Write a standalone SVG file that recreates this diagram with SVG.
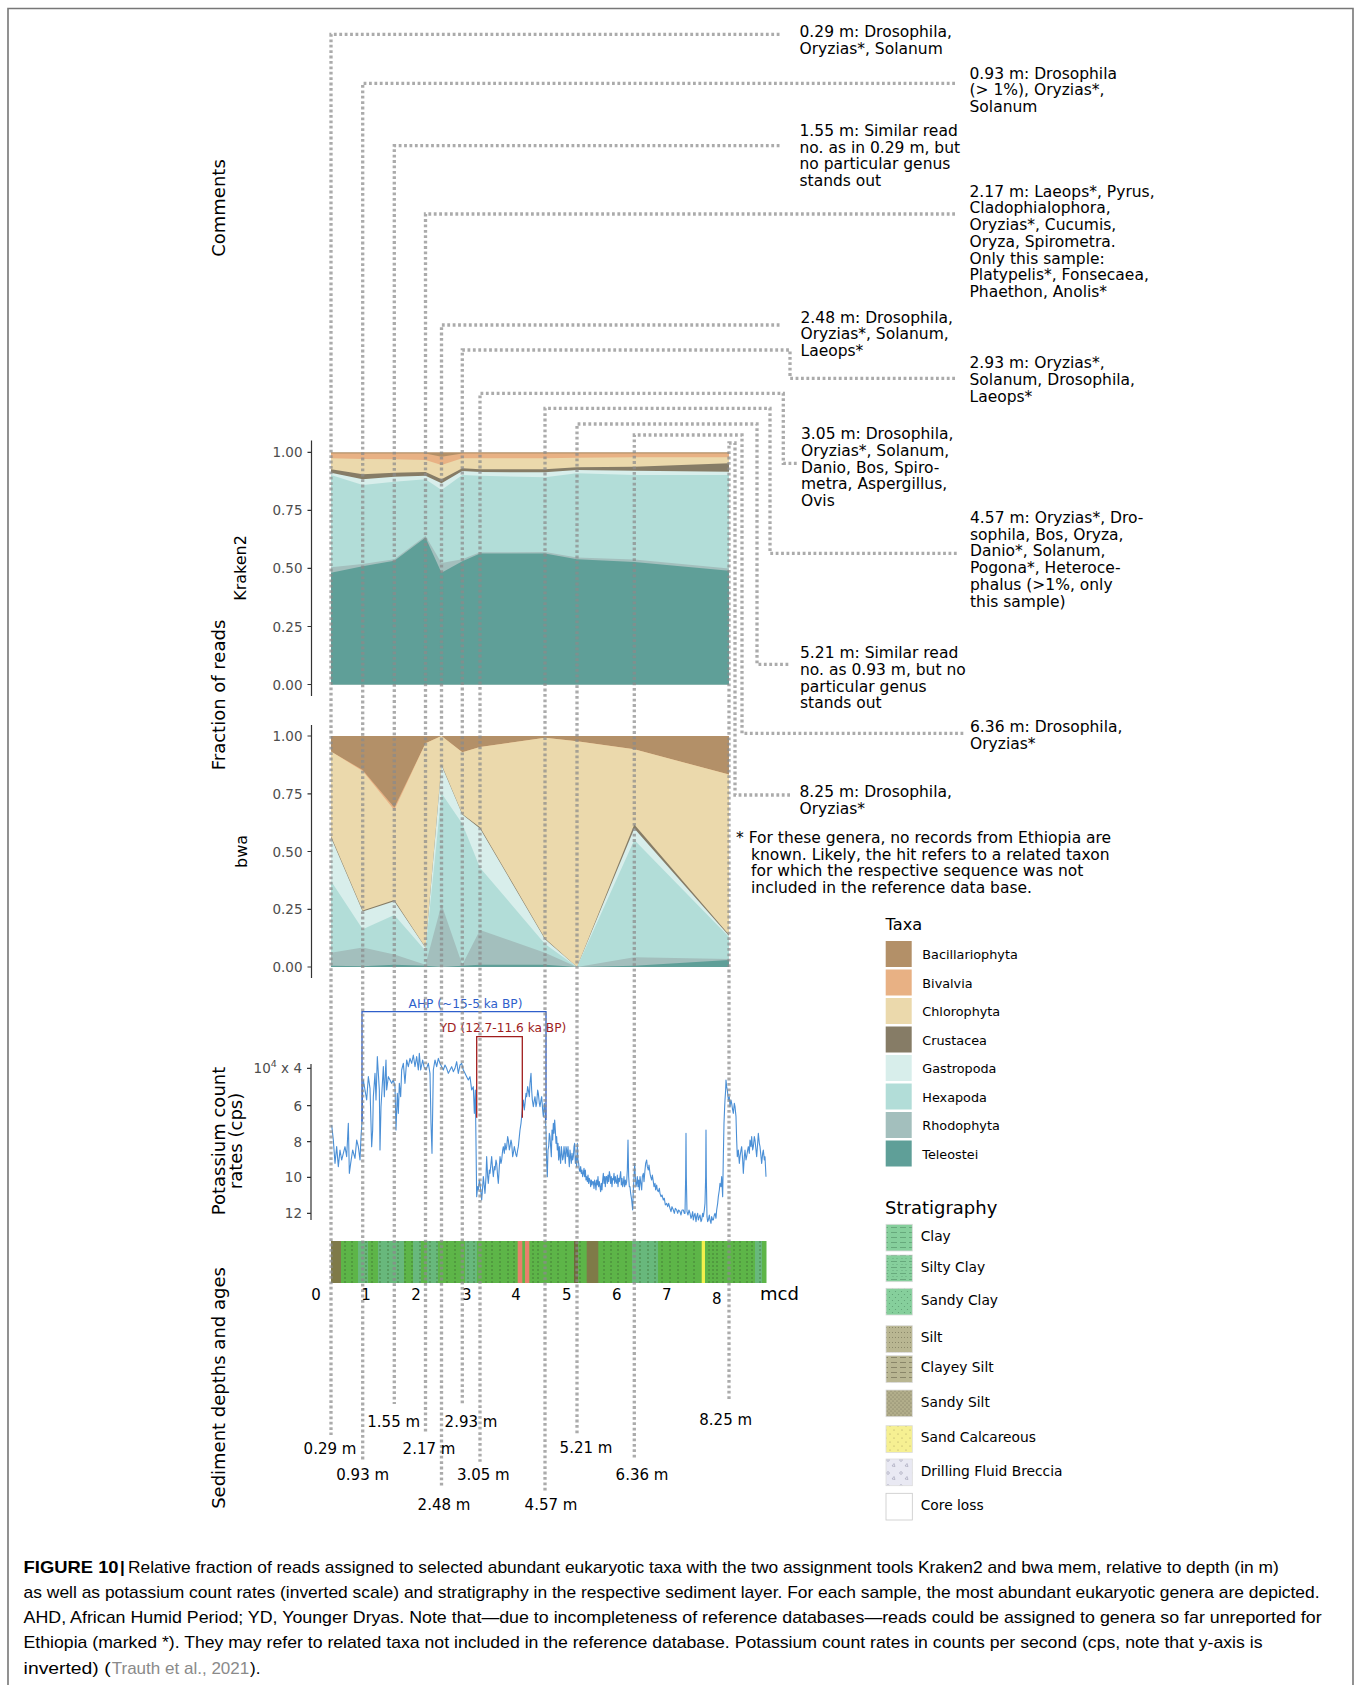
<svg xmlns="http://www.w3.org/2000/svg" width="1356" height="1685" viewBox="0 0 1356 1685">
<style>
text{font-family:"DejaVu Sans","Noto Sans",sans-serif;fill:#000}
.cm{font-size:15.5px}
.tk{font-size:13.5px;fill:#4d4d4d;text-anchor:end}
.ax{font-size:18px;text-anchor:middle}
.ax2{font-size:16px;text-anchor:middle}
.lg{font-size:12.8px}
.sl{font-size:13.8px}
.dp{font-size:15px;text-anchor:middle}
.dot{fill:none;stroke:#8a8a8a;stroke-opacity:0.72;stroke-width:3.3;stroke-dasharray:2.8 2.6}
.axl{stroke:#333;stroke-width:1.2;fill:none}
.cap{font-family:"Liberation Sans",Arial,sans-serif;font-size:17px}
.sd{stroke:#3b6a30;stroke-width:0.9;stroke-dasharray:2 2;opacity:0.75}
</style>
<defs>
<pattern id="pClay" width="9" height="5" patternUnits="userSpaceOnUse"><rect width="9" height="5" fill="#86cf9c"/><line x1="0" y1="2.5" x2="6" y2="2.5" stroke="#5f9f74" stroke-width="0.8"/></pattern>
<pattern id="pSiltyClay" width="9" height="6" patternUnits="userSpaceOnUse"><rect width="9" height="6" fill="#86cf9c"/><line x1="0" y1="1.5" x2="6" y2="1.5" stroke="#5f9f74" stroke-width="0.8"/><circle cx="2" cy="4.5" r="0.5" fill="#5f9f74"/><circle cx="6" cy="4.5" r="0.5" fill="#5f9f74"/></pattern>
<pattern id="pSandyClay" width="6" height="6" patternUnits="userSpaceOnUse"><rect width="6" height="6" fill="#86cf9c"/><circle cx="1.5" cy="1.5" r="0.6" fill="#5f9f74"/><circle cx="4.5" cy="4.5" r="0.6" fill="#5f9f74"/></pattern>
<pattern id="pSilt" width="6" height="5" patternUnits="userSpaceOnUse"><rect width="6" height="5" fill="#b9b692"/><circle cx="1.5" cy="2.5" r="0.5" fill="#7d7a5e"/><circle cx="4.5" cy="2.5" r="0.5" fill="#7d7a5e"/></pattern>
<pattern id="pClayeySilt" width="9" height="5" patternUnits="userSpaceOnUse"><rect width="9" height="5" fill="#b9b692"/><line x1="0" y1="2.5" x2="6" y2="2.5" stroke="#7d7a5e" stroke-width="0.8"/></pattern>
<pattern id="pSandySilt" width="4" height="4" patternUnits="userSpaceOnUse"><rect width="4" height="4" fill="#b2ae8b"/><circle cx="1" cy="1" r="0.55" fill="#76735a"/><circle cx="3" cy="3" r="0.55" fill="#76735a"/></pattern>
<pattern id="pSand" width="8" height="8" patternUnits="userSpaceOnUse"><rect width="8" height="8" fill="#f6f092"/><circle cx="2" cy="2" r="0.6" fill="#a8a060"/><circle cx="6" cy="6" r="0.6" fill="#a8a060"/></pattern>
<pattern id="pBreccia" width="13" height="13" patternUnits="userSpaceOnUse"><rect width="13" height="13" fill="#e9e9f3"/><circle cx="4" cy="4" r="1.3" fill="none" stroke="#9a9ab0" stroke-width="0.6"/><path d="M8,10 l2,-2.5 l1,3 z" fill="none" stroke="#9a9ab0" stroke-width="0.6"/></pattern>
</defs>

<path d="M8,1685 V8.5 H1353 V1685" fill="none" stroke="#777" stroke-width="1.6"/>

<g id="axis-titles">
<text class="ax" transform="translate(224.5,208) rotate(-90)">Comments</text>
<text class="ax" transform="translate(224.5,695) rotate(-90)">Fraction of reads</text>
<text class="ax2" transform="translate(246,568) rotate(-90)">Kraken2</text>
<text class="ax2" transform="translate(247,851.5) rotate(-90)">bwa</text>
<text class="ax" transform="translate(224.5,1141) rotate(-90)">Potassium count</text>
<text class="ax" transform="translate(241.7,1141) rotate(-90)">rates (cps)</text>
<text class="ax" transform="translate(224.5,1388) rotate(-90)">Sediment depths and ages</text>
</g>

<g id="kraken2-panel">
<polygon fill="#b39068" points="331,452.3 729,452.3 729,684.5 331,684.5"/>
<polygon fill="#e8b184" points="331,453.5 362.7,453.5 394.3,453.5 425.5,453.5 441.5,456.7 462.3,453.5 480,453.5 545,453.5 577,453.5 634.3,453.5 729,453.5 729,684.5 331,684.5"/>
<polygon fill="#ebd9ac" points="331,458.3 362.7,459 394.3,459.3 425.5,460 441.5,465 462.3,458.3 480,458.3 545,458.3 577,457.7 634.3,457.3 729,457.3 729,684.5 331,684.5"/>
<polygon fill="#867c66" points="331,469.3 362.7,474.3 394.3,472.7 425.5,472 441.5,479.3 462.3,468.3 480,469.3 545,469.3 577,467.3 634.3,466.7 729,463.3 729,684.5 331,684.5"/>
<polygon fill="#d8eeeb" points="331,472.7 362.7,479.3 394.3,476.7 425.5,475.7 441.5,483.3 462.3,471 480,472 545,472.3 577,470 634.3,470.7 729,471.7 729,684.5 331,684.5"/>
<polygon fill="#b2ddd8" points="331,475 362.7,485 394.3,481.7 425.5,479.3 441.5,490 462.3,475 480,475.7 545,477.3 577,473.3 634.3,475 729,475 729,684.5 331,684.5"/>
<polygon fill="#a3bfbd" points="331,567.3 362.7,563.9 394.3,559.2 425.5,536 441.5,562.9 462.3,559.2 480,552.3 545,552 577,557.4 634.3,559.5 729,568.5 729,684.5 331,684.5"/>
<polygon fill="#5f9f98" points="331,572.7 362.7,566.2 394.3,560.8 425.5,537.5 441.5,572.7 462.3,561.3 480,553.6 545,553.4 577,559.2 634.3,562 729,570.8 729,684.5 331,684.5"/>
<path class="axl" d="M311.5,440.5 V696 M307.5,452.3 H311.5 M307.5,510.4 H311.5 M307.5,568.4 H311.5 M307.5,626.5 H311.5 M307.5,684.5 H311.5"/>
<text class="tk" x="302.5" y="457.3">1.00</text>
<text class="tk" x="302.5" y="515.4">0.75</text>
<text class="tk" x="302.5" y="573.4">0.50</text>
<text class="tk" x="302.5" y="631.5">0.25</text>
<text class="tk" x="302.5" y="689.5">0.00</text>
</g>

<g id="bwa-panel">
<polygon fill="#b39068" points="331,736 729,736 729,967 331,967"/>
<polygon fill="#e8b184" points="331,751.5 362.7,770 394.3,807.6 425.5,743.2 441.5,736 462.3,752.2 480,746.9 545,737.8 577,741.3 634.3,749.2 729,774.6 729,967 331,967"/>
<polygon fill="#ebd9ac" points="331,751.5 362.7,771 394.3,810 425.5,743.2 441.5,736 462.3,752.2 480,746.9 545,737.8 577,741.3 634.3,749.2 729,774.6 729,967 331,967"/>
<polygon fill="#867c66" points="331,836.3 362.7,910.4 394.3,900 425.5,947.4 441.5,764.6 462.3,814.1 480,827.2 545,938.4 577,967 634.3,824.5 729,934.7 729,967 331,967"/>
<polygon fill="#d8eeeb" points="331,837.6 362.7,911.6 394.3,901.2 425.5,947.8 441.5,765.3 462.3,814.5 480,828.4 545,939.3 577,967 634.3,828.4 729,935.8 729,967 331,967"/>
<polygon fill="#b2ddd8" points="331,881.1 362.7,929.3 394.3,915 425.5,950.8 441.5,793.3 462.3,823.8 480,867.7 545,943.9 577,967 634.3,839.9 729,937 729,967 331,967"/>
<polygon fill="#a3bfbd" points="331,952.7 362.7,947.4 394.3,954.5 425.5,964.7 441.5,904.6 462.3,964.7 480,930 545,952.7 577,967 634.3,957.3 729,959.1 729,967 331,967"/>
<polygon fill="#5f9f98" points="331,965.8 362.7,966.3 394.3,964.7 425.5,965.8 441.5,967 462.3,965.8 480,964.7 545,964.7 577,967 634.3,965.8 729,960.1 729,967 331,967"/>
<path class="axl" d="M311.5,725 V978 M307.5,736 H311.5 M307.5,793.8 H311.5 M307.5,851.5 H311.5 M307.5,909.3 H311.5 M307.5,967 H311.5"/>
<text class="tk" x="302.5" y="741">1.00</text>
<text class="tk" x="302.5" y="798.8">0.75</text>
<text class="tk" x="302.5" y="856.5">0.50</text>
<text class="tk" x="302.5" y="914.3">0.25</text>
<text class="tk" x="302.5" y="972">0.00</text>
</g>

<g id="potassium-panel">
<path class="axl" d="M311,1064 V1220 M307,1068.3 H311 M307,1105.7 H311 M307,1141.7 H311 M307,1177.3 H311 M307,1213.3 H311"/>
<text class="tk" x="302" y="1073.3">10<tspan dy="-6" font-size="9.5">4</tspan><tspan dy="6"> x 4</tspan></text>
<text class="tk" x="302" y="1110.7">6</text>
<text class="tk" x="302" y="1146.7">8</text>
<text class="tk" x="302" y="1182.3">10</text>
<text class="tk" x="302" y="1218.3">12</text>
<polyline transform="translate(300,990) scale(0.33333)" fill="none" stroke="#4a8fd6" stroke-width="1.1" vector-effect="non-scaling-stroke" stroke-linejoin="round" points="95,405 100,450 105,520 110,470 115,530 120,480 125,510 130,490 135,470 140,500 145,400 148,550 152,520 158,480 165,505 170,450 175,470 180,510 183,440 186,395 188,300 190,270 195,300 200,330 205,260 210,295 213,400 215,470 218,420 220,320 225,250 228,330 232,200 235,250 238,300 240,480 243,350 246,300 250,230 253,320 256,250 258,210 260,300 265,260 270,270 275,280 280,270 285,290 288,420 292,310 295,370 298,280 302,320 305,240 310,220 315,280 320,210 325,230 330,205 335,220 340,195 345,230 350,200 355,240 358,190 362,240 368,210 372,230 378,240 385,220 390,250 393,400 396,490 400,240 405,210 410,230 415,205 420,220 425,230 430,240 435,225 440,235 445,250 450,240 455,230 460,245 465,235 470,215 475,250 480,225 485,220 490,240 495,250 500,260 505,270 510,260 515,300 520,290 523,370 526,300 530,620 533,590 535,600 538,570 540,580 543,610 545,630 548,590 550,560 553,590 555,610 558,560 560,500 563,560 565,580 568,540 570,550 573,520 575,500 578,540 580,560 583,530 585,540 588,510 590,520 593,560 595,580 598,530 600,500 603,520 605,510 608,480 610,470 613,490 615,460 618,480 620,470 623,440 625,450 628,480 630,470 633,450 635,460 638,500 640,490 643,470 645,480 648,495 650,500 653,480 655,470 658,440 660,420 663,400 665,380 668,350 670,330 673,360 675,340 678,310 680,320 683,290 685,300 688,320 690,280 693,250 695,300 697,330 700,350 703,330 705,320 708,350 710,340 713,300 715,310 718,340 720,350 723,330 725,320 728,360 730,380 733,340 735,360 738,420 740,520 742,560 744,480 746,470 748,430 750,440 752,470 754,500 756,420 758,450 760,400 762,430 764,390 766,420 768,460 770,440 772,480 774,460 776,510 778,470 780,500 782,520 784,470 786,490 788,510 790,500 792,470 794,490 796,520 798,470 800,480 802,500 804,470 806,500 808,530 810,480 812,500 814,520 816,490 818,510 820,500 822,470 824,460 826,520 828,500 830,530 832,460 834,510 836,520 838,540 840,545 842,530 844,550 846,540 848,560 850,550 852,535 854,560 856,540 858,570 860,560 862,575 864,555 866,580 868,565 870,570 872,590 874,570 876,585 878,575 880,575 882,595 884,570 886,580 888,600 890,570 892,585 894,560 896,590 898,575 900,590 902,605 904,580 906,600 908,570 910,550 912,580 914,560 916,590 918,560 920,560 922,580 924,555 926,575 928,545 930,555 932,580 934,560 936,590 938,565 940,570 942,550 944,580 946,560 948,575 950,580 952,555 954,590 956,565 958,575 960,560 962,545 964,585 966,565 968,590 970,580 972,560 974,590 976,570 978,585 980,575 982,540 984,450 986,560 988,590 990,590 992,610 995,630 998,660 1000,600 1002,560 1004,520 1006,560 1008,590 1010,580 1012,560 1014,590 1016,570 1018,600 1020,560 1022,575 1025,600 1027,560 1030,550 1032,575 1035,540 1037,520 1040,510 1042,530 1045,540 1047,525 1050,550 1052,560 1055,570 1057,555 1060,575 1062,590 1065,580 1067,600 1070,585 1072,600 1075,605 1078,595 1080,610 1083,620 1086,615 1090,630 1093,625 1096,645 1100,640 1103,650 1106,640 1110,655 1113,665 1116,650 1120,660 1123,670 1126,655 1130,660 1133,670 1136,660 1140,665 1143,675 1146,660 1150,660 1153,670 1155,670 1157,560 1158,430 1159,560 1161,665 1164,675 1167,660 1170,670 1173,685 1175,680 1178,665 1180,690 1183,675 1185,670 1188,695 1190,680 1193,670 1195,690 1198,680 1200,675 1203,695 1205,690 1208,670 1210,680 1213,660 1215,640 1217,560 1218,420 1219,560 1221,680 1223,695 1225,690 1228,675 1230,690 1233,700 1235,680 1238,690 1240,690 1243,675 1245,670 1248,685 1250,660 1253,640 1255,620 1258,600 1260,580 1263,590 1265,560 1268,620 1270,500 1272,400 1274,350 1275,330 1277,300 1278,270 1280,290 1282,300 1285,330 1288,320 1290,350 1293,330 1295,340 1298,360 1300,370 1303,340 1305,350 1308,380 1310,450 1312,500 1315,480 1318,520 1320,500 1323,480 1325,470 1328,510 1330,550 1333,500 1335,480 1338,510 1340,500 1343,480 1345,470 1348,490 1350,450 1353,470 1355,440 1358,480 1360,470 1363,440 1365,450 1368,480 1370,500 1373,460 1375,430 1378,460 1380,470 1383,500 1385,520 1388,490 1390,480 1393,510 1395,500 1398,560"/>
<path d="M362,1121.7 V1011.7 H546 V1120" fill="none" stroke="#2f5fcb" stroke-width="1.3"/>
<text x="465.5" y="1008" font-size="12.2" text-anchor="middle" style="fill:#2f5fcb">AHP (~15-5 ka BP)</text>
<path d="M476.7,1117.7 V1036.7 H522.3 V1117.7" fill="none" stroke="#a01d1d" stroke-width="1.3"/>
<text x="503" y="1031.7" font-size="12.2" text-anchor="middle" style="fill:#a01d1d">YD (12.7-11.6 ka BP)</text>
</g>

<g id="stratigraphy-bar">
<rect x="331" y="1241" width="435.5" height="42" fill="#5db548"/>
<g fill="#68b87c">
<rect x="358" y="1241" width="10" height="42"/><rect x="378" y="1241" width="26" height="42"/><rect x="413" y="1241" width="8" height="42"/><rect x="427" y="1241" width="11" height="42"/><rect x="465" y="1241" width="12" height="42"/><rect x="632" y="1241" width="26" height="42"/><rect x="755" y="1241" width="7" height="42"/>
</g>
<rect x="331" y="1241" width="10" height="42" fill="#7f7a48"/>
<rect x="574" y="1241" width="4" height="42" fill="#6e6b3c"/>
<rect x="586.7" y="1241" width="11.6" height="42" fill="#7f7a48"/>
<rect x="517.7" y="1241" width="4.6" height="42" fill="#e8806c"/>
<rect x="525" y="1241" width="4.3" height="42" fill="#e8806c"/>
<rect x="701.7" y="1241" width="3.3" height="42" fill="#f2f04c"/>
<path class="sd" d="M345,1241V1283M352,1241V1283M366,1241V1283M372,1241V1283M380,1241V1283M388,1241V1283M398,1241V1283M405,1241V1283M412,1241V1283M420,1241V1283M430,1241V1283M437,1241V1283M447,1241V1283M455,1241V1283M468,1241V1283M474,1241V1283M486,1241V1283M492,1241V1283M500,1241V1283M508,1241V1283M514,1241V1283M533,1241V1283M538,1241V1283M551,1241V1283M558,1241V1283M566,1241V1283M580,1241V1283M604,1241V1283M611,1241V1283M618,1241V1283M626,1241V1283M640,1241V1283M648,1241V1283M655,1241V1283M662,1241V1283M670,1241V1283M678,1241V1283M686,1241V1283M694,1241V1283M709,1241V1283M713,1241V1283M717,1241V1283M723,1241V1283M734,1241V1283M740,1241V1283M747,1241V1283M752,1241V1283M760,1241V1283"/>
</g>

<g id="depth-axis">
<text class="dp" x="316" y="1300">0</text>
<text class="dp" x="366" y="1300">1</text>
<text class="dp" x="416" y="1300">2</text>
<text class="dp" x="466.7" y="1300">3</text>
<text class="dp" x="516" y="1300">4</text>
<text class="dp" x="566.7" y="1300">5</text>
<text class="dp" x="616.7" y="1300">6</text>
<text class="dp" x="666.7" y="1300">7</text>
<text class="dp" x="716.7" y="1304">8</text>
<text x="760" y="1300" font-size="18">mcd</text>
</g>

<g id="connectors">
<path class="dot" d="M779.5,34.3 H331 V1435"/>
<path class="dot" d="M955,83.3 H362.7 V1461.7"/>
<path class="dot" d="M779.5,145.7 H394.3 V1404"/>
<path class="dot" d="M955,214 H425.5 V1432.7"/>
<path class="dot" d="M779.5,325 H441.5 V1488.3"/>
<path class="dot" d="M955,378.3 H790 V350 H462.3 V1404"/>
<path class="dot" d="M796.7,463.3 H783.3 V393.3 H480 V1461.7"/>
<path class="dot" d="M956.7,553.3 H770 V408.3 H545 V1491.7"/>
<path class="dot" d="M788.3,664.3 H757 V424 H577 V1435"/>
<path class="dot" d="M963.3,733.3 H742 V435 H634.3 V1458.3"/>
<path class="dot" d="M790,795 H735 V443 H729 V1400"/>
</g>

<g id="comments">
<text class="cm" x="799.5" y="37"><tspan x="799.5">0.29 m: Drosophila,</tspan><tspan x="799.5" dy="16.7">Oryzias*, Solanum</tspan></text>
<text class="cm" x="969.5" y="78.5"><tspan x="969.5">0.93 m: Drosophila</tspan><tspan x="969.5" dy="16.7">(&gt; 1%), Oryzias*,</tspan><tspan x="969.5" dy="16.7">Solanum</tspan></text>
<text class="cm" x="799.5" y="136"><tspan x="799.5">1.55 m: Similar read</tspan><tspan x="799.5" dy="16.7">no. as in 0.29 m, but</tspan><tspan x="799.5" dy="16.7">no particular genus</tspan><tspan x="799.5" dy="16.7">stands out</tspan></text>
<text class="cm" x="969.5" y="196.7"><tspan x="969.5">2.17 m: Laeops*, Pyrus,</tspan><tspan x="969.5" dy="16.7">Cladophialophora,</tspan><tspan x="969.5" dy="16.7">Oryzias*, Cucumis,</tspan><tspan x="969.5" dy="16.7">Oryza, Spirometra.</tspan><tspan x="969.5" dy="16.7">Only this sample:</tspan><tspan x="969.5" dy="16.7">Platypelis*, Fonsecaea,</tspan><tspan x="969.5" dy="16.7">Phaethon, Anolis*</tspan></text>
<text class="cm" x="800.5" y="322.7"><tspan x="800.5">2.48 m: Drosophila,</tspan><tspan x="800.5" dy="16.7">Oryzias*, Solanum,</tspan><tspan x="800.5" dy="16.7">Laeops*</tspan></text>
<text class="cm" x="969.5" y="368.3"><tspan x="969.5">2.93 m: Oryzias*,</tspan><tspan x="969.5" dy="16.7">Solanum, Drosophila,</tspan><tspan x="969.5" dy="16.7">Laeops*</tspan></text>
<text class="cm" x="801" y="439.3"><tspan x="801">3.05 m: Drosophila,</tspan><tspan x="801" dy="16.7">Oryzias*, Solanum,</tspan><tspan x="801" dy="16.7">Danio, Bos, Spiro-</tspan><tspan x="801" dy="16.7">metra, Aspergillus,</tspan><tspan x="801" dy="16.7">Ovis</tspan></text>
<text class="cm" x="970" y="523"><tspan x="970">4.57 m: Oryzias*, Dro-</tspan><tspan x="970" dy="16.7">sophila, Bos, Oryza,</tspan><tspan x="970" dy="16.7">Danio*, Solanum,</tspan><tspan x="970" dy="16.7">Pogona*, Heteroce-</tspan><tspan x="970" dy="16.7">phalus (&gt;1%, only</tspan><tspan x="970" dy="16.7">this sample)</tspan></text>
<text class="cm" x="800" y="658.3"><tspan x="800">5.21 m: Similar read</tspan><tspan x="800" dy="16.7">no. as 0.93 m, but no</tspan><tspan x="800" dy="16.7">particular genus</tspan><tspan x="800" dy="16.7">stands out</tspan></text>
<text class="cm" x="970" y="732.4"><tspan x="970">6.36 m: Drosophila,</tspan><tspan x="970" dy="16.7">Oryzias*</tspan></text>
<text class="cm" x="799.5" y="797"><tspan x="799.5">8.25 m: Drosophila,</tspan><tspan x="799.5" dy="16.7">Oryzias*</tspan></text>
</g>

<g id="footnote">
<text class="cm" x="736" y="843"><tspan x="736">* For these genera, no records from Ethiopia are</tspan><tspan x="751" dy="16.7">known. Likely, the hit refers to a related taxon</tspan><tspan x="751" dy="16.7">for which the respective sequence was not</tspan><tspan x="751" dy="16.7">included in the reference data base.</tspan></text>
</g>

<g id="depth-labels">
<text class="dp" x="330" y="1454">0.29 m</text>
<text class="dp" x="362.7" y="1480">0.93 m</text>
<text class="dp" x="393.7" y="1426.7">1.55 m</text>
<text class="dp" x="429" y="1454">2.17 m</text>
<text class="dp" x="444" y="1510">2.48 m</text>
<text class="dp" x="471" y="1426.7">2.93 m</text>
<text class="dp" x="483.3" y="1480">3.05 m</text>
<text class="dp" x="551" y="1510">4.57 m</text>
<text class="dp" x="586" y="1452.7">5.21 m</text>
<text class="dp" x="642" y="1480">6.36 m</text>
<text class="dp" x="725.7" y="1425">8.25 m</text>
</g>

<g id="legend-taxa">
<text x="885.5" y="930" font-size="16.2">Taxa</text>
<rect x="885.7" y="941" width="26" height="26" fill="#b39068"/>
<rect x="885.7" y="969.5" width="26" height="26" fill="#e8b184"/>
<rect x="885.7" y="998" width="26" height="26" fill="#ebd9ac"/>
<rect x="885.7" y="1026.5" width="26" height="26" fill="#867c66"/>
<rect x="885.7" y="1055" width="26" height="26" fill="#d8eeeb"/>
<rect x="885.7" y="1083.5" width="26" height="26" fill="#b2ddd8"/>
<rect x="885.7" y="1112" width="26" height="26" fill="#a3bfbd"/>
<rect x="885.7" y="1140.5" width="26" height="26" fill="#5f9f98"/>
<text class="lg" x="922.3" y="959.3">Bacillariophyta</text>
<text class="lg" x="922.3" y="987.8">Bivalvia</text>
<text class="lg" x="922.3" y="1016.3">Chlorophyta</text>
<text class="lg" x="922.3" y="1044.8">Crustacea</text>
<text class="lg" x="922.3" y="1073.3">Gastropoda</text>
<text class="lg" x="922.3" y="1101.8">Hexapoda</text>
<text class="lg" x="922.3" y="1130.3">Rhodophyta</text>
<text class="lg" x="922.3" y="1158.8">Teleostei</text>
</g>

<g id="legend-stratigraphy">
<text x="885" y="1214.3" font-size="18">Stratigraphy</text>
<g stroke="#dcdcdc" stroke-width="0.8">
<rect x="886" y="1224.3" width="26.3" height="26.7" fill="url(#pClay)"/>
<rect x="886" y="1255" width="26.3" height="26.7" fill="url(#pSiltyClay)"/>
<rect x="886" y="1288.3" width="26.3" height="26.7" fill="url(#pSandyClay)"/>
<rect x="886" y="1325.7" width="26.3" height="26.7" fill="url(#pSilt)"/>
<rect x="886" y="1355.7" width="26.3" height="26.7" fill="url(#pClayeySilt)"/>
<rect x="886" y="1390" width="26.3" height="26.7" fill="url(#pSandySilt)"/>
<rect x="886" y="1425.7" width="26.3" height="26.7" fill="url(#pSand)"/>
<rect x="886" y="1459" width="26.3" height="26.7" fill="url(#pBreccia)"/>
<rect x="886" y="1493.3" width="26.3" height="26.7" fill="#fff" stroke="#c8c8c8"/>
</g>
<text class="sl" x="920.7" y="1241">Clay</text>
<text class="sl" x="920.7" y="1271.7">Silty Clay</text>
<text class="sl" x="920.7" y="1305">Sandy Clay</text>
<text class="sl" x="920.7" y="1342.4">Silt</text>
<text class="sl" x="920.7" y="1372.4">Clayey Silt</text>
<text class="sl" x="920.7" y="1406.7">Sandy Silt</text>
<text class="sl" x="920.7" y="1442.4">Sand Calcareous</text>
<text class="sl" x="920.7" y="1475.7">Drilling Fluid Breccia</text>
<text class="sl" x="920.7" y="1510">Core loss</text>
</g>

<g id="caption">
<text class="cap" x="23.6" y="1573" font-weight="bold" textLength="95" lengthAdjust="spacingAndGlyphs">FIGURE 10</text>
<text class="cap" x="120" y="1573" font-weight="bold">|</text>
<text class="cap" x="128" y="1573" textLength="1150.7" lengthAdjust="spacingAndGlyphs">Relative fraction of reads assigned to selected abundant eukaryotic taxa with the two assignment tools Kraken2 and bwa mem, relative to depth (in m)</text>
<text class="cap" x="23.6" y="1598" textLength="1295.9" lengthAdjust="spacingAndGlyphs">as well as potassium count rates (inverted scale) and stratigraphy in the respective sediment layer. For each sample, the most abundant eukaryotic genera are depicted.</text>
<text class="cap" x="23.6" y="1623" textLength="1298" lengthAdjust="spacingAndGlyphs">AHD, African Humid Period; YD, Younger Dryas. Note that—due to incompleteness of reference databases—reads could be assigned to genera so far unreported for</text>
<text class="cap" x="23.6" y="1648" textLength="1238.9" lengthAdjust="spacingAndGlyphs">Ethiopia (marked *). They may refer to related taxa not included in the reference database. Potassium count rates in counts per second (cps, note that y-axis is</text>
<text class="cap" x="23.6" y="1673.5" textLength="87" lengthAdjust="spacingAndGlyphs">inverted) (</text>
<text class="cap" x="111.7" y="1673.5" textLength="137.6" lengthAdjust="spacingAndGlyphs" style="fill:#8a8a8a">Trauth et al., 2021</text>
<text class="cap" x="250" y="1673.5">).</text>
</g>
</svg>
